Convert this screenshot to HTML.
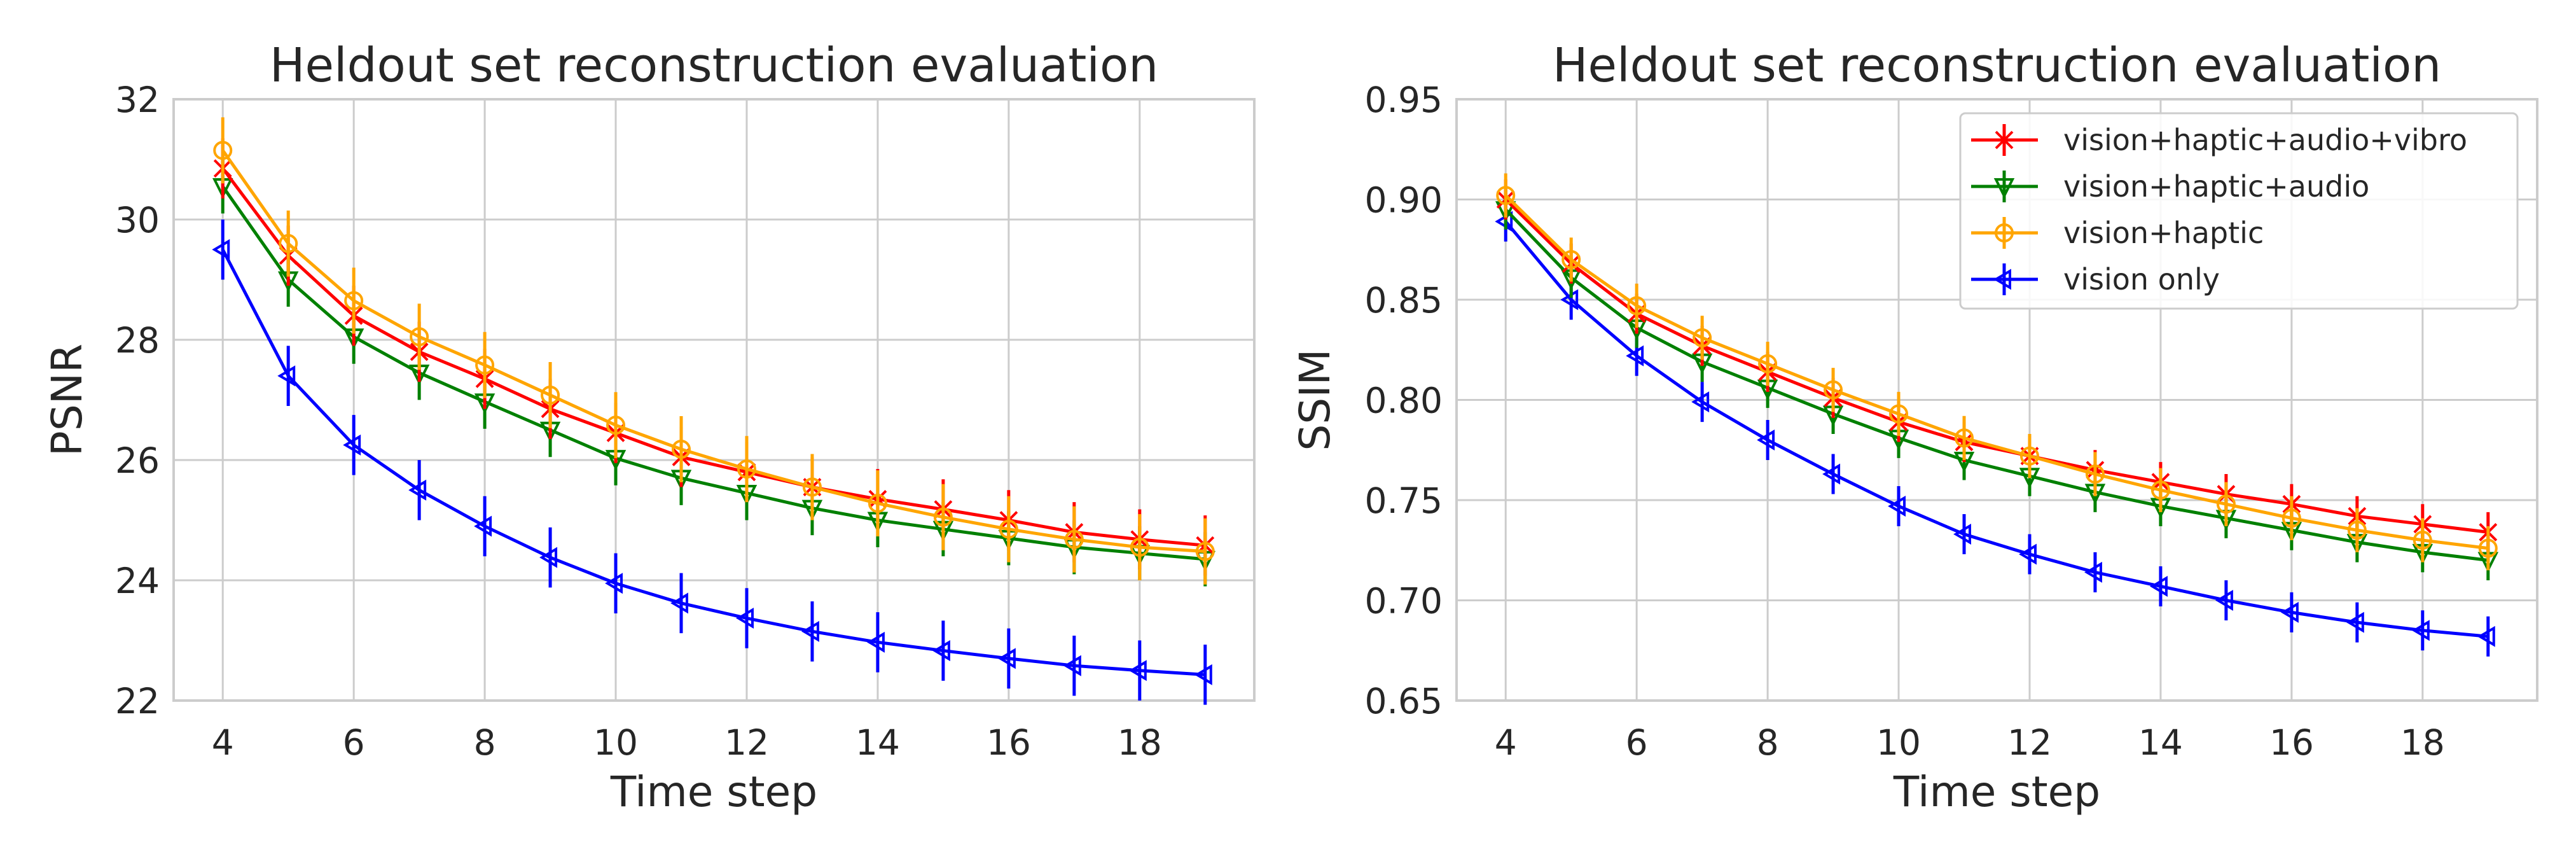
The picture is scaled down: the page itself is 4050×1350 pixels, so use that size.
<!DOCTYPE html>
<html><head><meta charset="utf-8"><style>
html,body{margin:0;padding:0;background:#fff;}
svg{display:block;font-family:"DejaVu Sans","Liberation Sans",sans-serif;}
</style></head><body>
<svg id="fig" width="4050" height="1350" viewBox="0 0 4050 1350"></svg>
<script>
const steps=[4,5,6,7,8,9,10,11,12,13,14,15,16,17,18,19];
const seriesNames=["vision+haptic+audio+vibro","vision+haptic+audio","vision+haptic","vision only"];
const seriesColors=["#ff0000","#008000","#ffa500","#0000ff"];
const psnrRed=[30.85,29.4,28.4,27.8,27.35,26.85,26.45,26.05,25.8,25.55,25.35,25.18,25.0,24.8,24.68,24.58];
const psnrGreen=[30.55,29.0,28.05,27.45,26.97,26.5,26.03,25.7,25.45,25.2,25.0,24.85,24.7,24.55,24.45,24.35];
const psnrOrange=[31.15,29.6,28.65,28.05,27.58,27.08,26.58,26.18,25.85,25.55,25.28,25.05,24.85,24.68,24.55,24.48];
const psnrBlue=[29.5,27.4,26.25,25.5,24.9,24.38,23.95,23.62,23.37,23.15,22.97,22.83,22.7,22.58,22.5,22.43];
const psnrErr=[0.5,0.45,0.55,0.5];
const ssimRed=[0.900,0.868,0.843,0.827,0.814,0.801,0.789,0.779,0.772,0.765,0.759,0.753,0.748,0.742,0.738,0.734];
const ssimGreen=[0.895,0.861,0.836,0.819,0.806,0.793,0.781,0.770,0.762,0.754,0.747,0.741,0.735,0.729,0.724,0.720];
const ssimOrange=[0.902,0.870,0.847,0.831,0.818,0.805,0.793,0.781,0.772,0.763,0.755,0.748,0.741,0.735,0.730,0.726];
const ssimBlue=[0.889,0.850,0.822,0.799,0.780,0.763,0.747,0.733,0.723,0.714,0.707,0.700,0.694,0.689,0.685,0.682];
const ssimErr=[0.01,0.01,0.011,0.01];
const xTicks=[4,6,8,10,12,14,16,18];
const psnrTicks=[22,24,26,28,30,32];
const psnrTickLabels=["22","24","26","28","30","32"];
const ssimTicks=[0.65,0.70,0.75,0.80,0.85,0.90,0.95];
const ssimTickLabels=["0.65","0.70","0.75","0.80","0.85","0.90","0.95"];

const NS="http://www.w3.org/2000/svg";
const svg=document.getElementById('fig');
function mk(tag,attrs,parent){const e=document.createElementNS(NS,tag);for(const k in attrs)e.setAttribute(k,attrs[k]);(parent||svg).appendChild(e);return e;}

function marker(g,kind,cx,cy,color){
  const s=13;
  let m;
  if(kind==='x'){
    m=mk('path',{d:`M${cx-s} ${cy-s}L${cx+s} ${cy+s}M${cx-s} ${cy+s}L${cx+s} ${cy-s}`,stroke:color,'stroke-width':4,fill:'none'},g);
  }else if(kind==='v'){
    m=mk('path',{d:`M${cx-s} ${cy-s+2}L${cx+s} ${cy-s+2}L${cx} ${cy+s+2}Z`,stroke:color,'stroke-width':4,fill:'none'},g);
  }else if(kind==='o'){
    m=mk('circle',{cx:cx,cy:cy,r:s,stroke:color,'stroke-width':4,fill:'none'},g);
  }else{
    m=mk('path',{d:`M${cx-s} ${cy}L${cx+s-4} ${cy-s}L${cx+s-4} ${cy+s}Z`,stroke:color,'stroke-width':4,fill:'none'},g);
  }
  
  
}
const kinds=['x','v','o','<'];

function panel(cfg){
  const {L,R,T,B,ymin,ymax,yTicks,yLabels,ylabel,series,errs,name}=cfg;
  const xmin=3.25,xmax=19.75;
  const X=v=>L+(v-xmin)/(xmax-xmin)*(R-L);
  const Y=v=>B-(v-ymin)/(ymax-ymin)*(B-T);
  const g=mk('g',{});
  
  
  const grid=mk('g',{},g);
  
  
  xTicks.forEach(t=>{mk('line',{x1:X(t),x2:X(t),y1:T,y2:B,stroke:'#cccccc','stroke-width':3},grid);});
  yTicks.forEach(t=>{mk('line',{x1:L,x2:R,y1:Y(t),y2:Y(t),stroke:'#cccccc','stroke-width':3},grid);});
  const frame=mk('rect',{x:L,y:T,width:R-L,height:B-T,fill:'none',stroke:'#cccccc','stroke-width':4},g);
  
  
  xTicks.forEach(t=>{const e=mk('text',{x:X(t),y:B+85,'text-anchor':'middle','font-size':55,fill:'#262626'},g);e.textContent=t;
    
    });
  yTicks.forEach((t,i)=>{const e=mk('text',{x:L-22,y:Y(t)+20,'text-anchor':'end','font-size':55,fill:'#262626'},g);e.textContent=yLabels[i];
    
    });
  const xl=mk('text',{x:(L+R)/2,y:1267,'text-anchor':'middle','font-size':66,fill:'#262626'},g);xl.textContent='Time step';
  
  
  const yl=mk('text',{x:0,y:0,'text-anchor':'middle','font-size':66,fill:'#262626',transform:`translate(${cfg.ylx},${(T+B)/2}) rotate(-90)`},g);yl.textContent=ylabel;
  
  
  const ti=mk('text',{x:(L+R)/2,y:128,'text-anchor':'middle','font-size':74,fill:'#262626'},g);ti.textContent='Heldout set reconstruction evaluation';
  
  
  const order=[3,1,0,2];
  order.forEach(si=>{
    const vals=series[si],col=seriesColors[si];
    const sg=mk('g',{},g);
    
    
    const pts=vals.map((v,i)=>X(steps[i])+','+Y(v)).join(' ');
    mk('polyline',{points:pts,fill:'none',stroke:col,'stroke-width':5},sg);
    vals.forEach((v,i)=>{
      const eb=mk('line',{x1:X(steps[i]),x2:X(steps[i]),y1:Y(v-errs[si]),y2:Y(v+errs[si]),stroke:col,'stroke-width':5},sg);
      
      
      marker(sg,kinds[si],X(steps[i]),Y(v),col);
    });
  });
}
panel({name:'psnr-panel',L:273,R:1972,T:156,B:1101,ymin:22,ymax:32,yTicks:psnrTicks,yLabels:psnrTickLabels,ylabel:'PSNR',ylx:128,
  series:[psnrRed,psnrGreen,psnrOrange,psnrBlue],errs:psnrErr});
panel({name:'ssim-panel',L:2290,R:3989,T:156,B:1101,ymin:0.65,ymax:0.95,yTicks:ssimTicks,yLabels:ssimTickLabels,ylabel:'SSIM',ylx:2090,
  series:[ssimRed,ssimGreen,ssimOrange,ssimBlue],errs:ssimErr});

// legend
const lg=mk('g',{});


mk('rect',{x:3082,y:178,width:876,height:307,rx:8,fill:'#ffffff','fill-opacity':0.85,stroke:'#cccccc','stroke-width':3},lg);
seriesNames.forEach((n,i)=>{
  const y=220+i*73,col=seriesColors[i];
  const eg=mk('g',{},lg);
  
  
  mk('line',{x1:3099,x2:3204,y1:y,y2:y,stroke:col,'stroke-width':5},eg);
  mk('line',{x1:3151,x2:3151,y1:y-25,y2:y+25,stroke:col,'stroke-width':5},eg);
  marker(eg,kinds[i],3151,y,col);
  const t=mk('text',{x:3244,y:y+16,'font-size':46,fill:'#262626'},eg);t.textContent=n;
});
</script>
</body></html>
